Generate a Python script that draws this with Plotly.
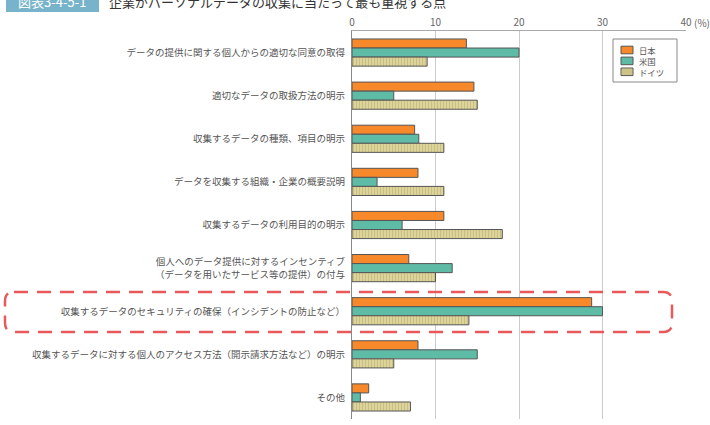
import plotly.graph_objects as go

categories = [
    "データの提供に関する個人からの適切な同意の取得",
    "適切なデータの取扱方法の明示",
    "収集するデータの種類、項目の明示",
    "データを収集する組織・企業の概要説明",
    "収集するデータの利用目的の明示",
    "個人へのデータ提供に対するインセンティブ<br>（データを用いたサービス等の提供）の付与",
    "収集するデータのセキュリティの確保（インシデントの防止など）",
    "収集するデータに対する個人のアクセス方法（開示請求方法など）の明示",
    "その他",
]
japan = [13.7, 14.6, 7.5, 7.9, 11.0, 6.8, 28.7, 7.9, 2.0]
usa = [20.0, 5.0, 8.0, 3.0, 6.0, 12.0, 30.0, 15.0, 1.0]
germany = [9.0, 15.0, 11.0, 11.0, 18.0, 10.0, 14.0, 5.0, 7.0]
series_names = ["日本", "米国", "ドイツ"]
series_colors = ["#F7892B", "#5DBBA6", "#DDD49C"]
tick_vals = [0, 10, 20, 30, 40]
tick_text = ["0", "10", "20", "30", "40"]

W, H = 710, 425
ML, MR, MT, MB = 352, 24, 31, 6
PW, PH = W - ML - MR, H - MT - MB

def px(x):
    return (x - ML) / PW

def py(y):
    return (H - MB - y) / PH

FONT = "Noto Sans CJK JP"
line = dict(color="#555555", width=1)
stripe = "#B8A968"

fig = go.Figure()
fig.add_trace(go.Bar(y=categories, x=japan, name=series_names[0], orientation="h",
                     marker=dict(color=series_colors[0], line=line)))
fig.add_trace(go.Bar(y=categories, x=usa, name=series_names[1], orientation="h",
                     marker=dict(color=series_colors[1], line=line)))
fig.add_trace(go.Bar(y=categories, x=germany, name=series_names[2], orientation="h",
                     marker=dict(color=series_colors[2], line=line,
                                 pattern=dict(shape="|", fgcolor=stripe, size=3, solidity=0.35))))

# rounded dashed highlight box
x0, x1, y0, y1, r = px(5), px(672), py(292), py(332), 9
rx, ry = r / PW, r / PH
path = (f"M {x0+rx},{y0} L {x1-rx},{y0} Q {x1},{y0} {x1},{y0-ry} "
        f"L {x1},{y1+ry} Q {x1},{y1} {x1-rx},{y1} L {x0+rx},{y1} "
        f"Q {x0},{y1} {x0},{y1+ry} L {x0},{y0-ry} Q {x0},{y0} {x0+rx},{y0} Z")

shapes = [
    dict(type="path", xref="paper", yref="paper", path=path,
         line=dict(color="#E9585A", width=2.5, dash="14px,9px")),
    dict(type="rect", xref="paper", yref="paper", x0=px(6), x1=px(99), y0=py(12), y1=py(-12),
         fillcolor="#77B3CB", line=dict(width=0), layer="above"),
    # legend frame
    dict(type="rect", xref="paper", yref="paper", x0=px(613), x1=px(677), y0=py(82), y1=py(39),
         fillcolor="white", line=dict(color="#888888", width=1), layer="above"),
]

annotations = [
    dict(xref="paper", yref="paper", x=px(52), y=py(1), text="図表3-4-5-1", showarrow=False,
         font=dict(family=FONT, size=13, color="white"), xanchor="center", yanchor="middle"),
    dict(xref="paper", yref="paper", x=px(107), y=py(1), text="企業がパーソナルデータの収集に当たって最も重視する点",
         showarrow=False, font=dict(family=FONT, size=13, color="#333333"), xanchor="left", yanchor="middle"),
    dict(xref="paper", yref="paper", x=px(692), y=py(22), text="(%)", showarrow=False,
         font=dict(family=FONT, size=10, color="#666666"), xanchor="left", yanchor="middle"),
]

# legend entries
LSTEP = 10.9
for i, col in enumerate(series_colors):
    cy = 50 + i * LSTEP
    shapes.append(dict(type="rect", xref="paper", yref="paper", x0=px(621), x1=px(633),
                       y0=py(cy + 3.8), y1=py(cy - 3.8), fillcolor=col,
                       line=dict(color="#555555", width=1), layer="above"))
    if i == 2:
        for sx in range(623, 633, 2):
            shapes.append(dict(type="line", xref="paper", yref="paper", x0=px(sx), x1=px(sx),
                               y0=py(cy + 3.3), y1=py(cy - 3.3),
                               line=dict(color=stripe, width=0.8), layer="above"))
annotations.append(dict(xref="paper", yref="paper", x=px(637), y=py(50 + LSTEP), text="<br>".join(series_names),
                        showarrow=False, align="left", font=dict(family=FONT, size=8.4, color="#555555"),
                        xanchor="left", yanchor="middle"))

fig.update_layout(
    width=W, height=H,
    margin=dict(l=ML, r=MR, t=MT, b=MB, pad=0),
    paper_bgcolor="white", plot_bgcolor="white",
    barmode="group", bargap=0.37, bargroupgap=0.0,
    font=dict(family=FONT, size=10, color="#555555"),
    showlegend=False,
    shapes=shapes, annotations=annotations,
)
fig.update_xaxes(range=[0, 40], side="top", tickvals=tick_vals, ticktext=tick_text,
                 showgrid=True, gridcolor="#CCCCCC", gridwidth=1, zeroline=False,
                 showline=True, linecolor="#AAAAAA", linewidth=1, ticks="",
                 tickfont=dict(family=FONT, size=10, color="#666666"), fixedrange=True)
fig.update_yaxes(autorange="reversed", showline=True, linecolor="#888888", linewidth=1,
                 ticks="", ticklabelstandoff=4,
                 tickfont=dict(family=FONT, size=9.5, color="#555555"), fixedrange=True)

fig.write_html("out.html")
